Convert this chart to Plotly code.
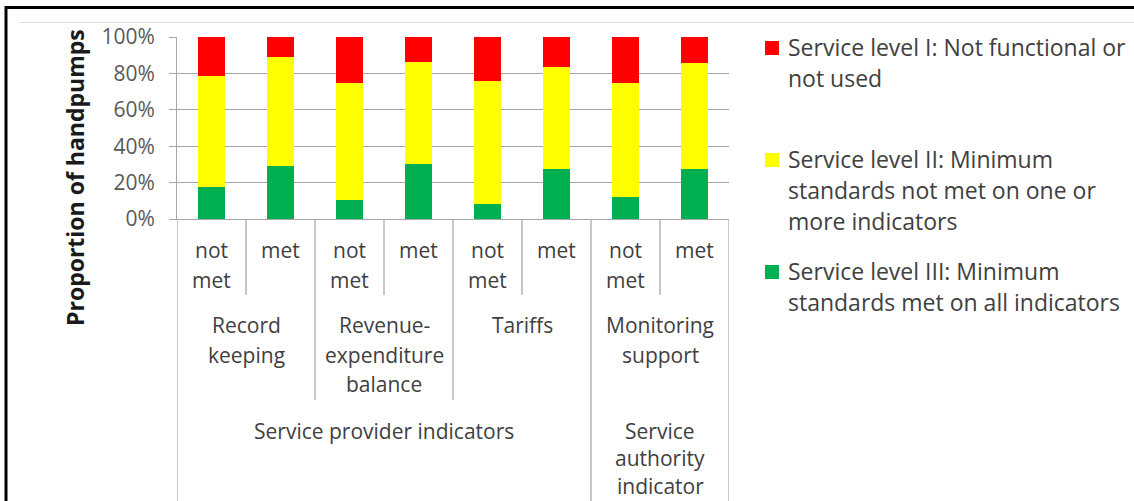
import plotly.graph_objects as go

# ---------------- data ----------------
status_labels = ["not<br>met", "met", "not<br>met", "met", "not<br>met", "met", "not<br>met", "met"]
indicator_labels = ["Record<br>keeping", "Revenue-<br>expenditure<br>balance", "Tariffs", "Monitoring<br>support"]
indicator_of_bar = [0, 0, 1, 1, 2, 2, 3, 3]
type_labels = ["Service provider indicators", "Service<br>authority<br>indicator"]
type_of_indicator = [0, 0, 0, 1]

level_III = [17.5, 29.0, 10.5, 30.0, 8.5, 27.5, 12.0, 27.5]   # green
level_II = [61.0, 60.0, 64.5, 56.0, 67.5, 56.0, 63.0, 58.0]   # yellow
level_I = [21.5, 11.0, 25.0, 14.0, 24.0, 16.5, 25.0, 14.5]    # red

series_names = [
    "Service level I: Not functional or<br>not used",
    "Service level II: Minimum<br>standards not met on one or<br>more indicators",
    "Service level III: Minimum<br>standards met on all indicators",
]
series_colors = ["#FF0000", "#FFFF00", "#00B050"]
y_title = "Proportion of handpumps"

# ---------------- layout geometry (pixels) ----------------
W_FIG, H_FIG = 1134, 501
L, R_EDGE, T, B = 177, 729, 37, 219
PW, PH = R_EDGE - L, B - T


def px_x(px):
    return (px - L) / PW


def px_y(py):
    return (B - py) / PH


FONT = "Open Sans, Noto Sans, DejaVu Sans, sans-serif"
TXT = "#404040"
GRID = "#a6a6a6"
SEP = "#b4b4b4"

n = len(level_III)
xs = list(range(n))

fig = go.Figure()
for vals, name, col in zip([level_III, level_II, level_I], series_names[::-1], series_colors[::-1]):
    fig.add_trace(go.Bar(
        x=xs, y=[v / 100 for v in vals], name=name.replace("<br>", " "),
        marker=dict(color=col, line=dict(width=0)), width=0.4, showlegend=False,
    ))

annotations = []
shapes = []


def add_lines(text, x, xref, py0, step, size=21, color=TXT, bold=False, xanchor="center"):
    for i, line in enumerate(text.split("<br>")):
        annotations.append(dict(
            text=f"<b>{line}</b>" if bold else line, x=x, xref=xref,
            y=px_y(py0 + i * step), yref="paper", showarrow=False,
            xanchor=xanchor, yanchor="middle",
            font=dict(family=FONT, size=size, color=color),
        ))


# level 1: status labels
for i, lab in enumerate(status_labels):
    add_lines(lab, i, "x", 250, 30)

# level 2: indicator labels
for j, lab in enumerate(indicator_labels):
    members = [i for i, g in enumerate(indicator_of_bar) if g == j]
    add_lines(lab, (members[0] + members[-1]) / 2, "x", 325, 29.5)

# level 3: type labels
for k, lab in enumerate(type_labels):
    members = [i for i, g in enumerate(indicator_of_bar) if type_of_indicator[g] == k]
    add_lines(lab, (members[0] + members[-1]) / 2, "x", 431, 27.5)

# separators between categories
bottom_short, bottom_mid, bottom_full = px_y(295), px_y(400), px_y(W_FIG)
for k in range(n + 1):
    xpos = k - 0.5
    if k == 0 or k == n:
        y1 = bottom_full
    else:
        a, b = indicator_of_bar[k - 1], indicator_of_bar[k]
        if a == b:
            y1 = bottom_short
        elif type_of_indicator[a] == type_of_indicator[b]:
            y1 = bottom_mid
        else:
            y1 = bottom_full
    shapes.append(dict(type="line", xref="x", yref="paper", x0=xpos, x1=xpos,
                       y0=0, y1=y1, line=dict(color=SEP, width=1.5)))

# y-axis title (centred like the original)
annotations.append(dict(
    text=f"<b>{y_title}</b>", x=px_x(75), y=px_y(178), xref="paper", yref="paper",
    showarrow=False, textangle=-90, xanchor="center", yanchor="middle",
    font=dict(family=FONT, size=23, color="#1a1a1a"),
))

# legend (drawn manually to match spacing)
leg_rows = [48, 160, 272]
for name, col, py in zip(series_names, series_colors, leg_rows):
    shapes.append(dict(type="rect", xref="paper", yref="paper",
                       x0=px_x(765), x1=px_x(779), y0=px_y(py - 7), y1=px_y(py + 7),
                       fillcolor=col, line=dict(width=0)))
    add_lines(name, px_x(786), "paper", py - 1, 31, size=23, xanchor="left")

# outer frame lines
shapes.append(dict(type="line", xref="paper", yref="paper", x0=px_x(5), x1=px_x(W_FIG + 5),
                   y0=px_y(7.5), y1=px_y(7.5), line=dict(color="black", width=3)))
shapes.append(dict(type="line", xref="paper", yref="paper", x0=px_x(6), x1=px_x(6),
                   y0=px_y(6), y1=px_y(H_FIG + 5), line=dict(color="black", width=3)))
shapes.append(dict(type="line", xref="paper", yref="paper", x0=px_x(19), x1=px_x(W_FIG + 5),
                   y0=px_y(22.5), y1=px_y(22.5), line=dict(color="#dcdcdc", width=1)))

fig.update_layout(
    width=W_FIG, height=H_FIG,
    margin=dict(l=L, r=W_FIG - R_EDGE, t=T, b=H_FIG - B, autoexpand=False),
    barmode="stack", bargap=0.6,
    plot_bgcolor="white", paper_bgcolor="white",
    annotations=annotations, shapes=shapes, showlegend=False,
    font=dict(family=FONT, color=TXT),
)
fig.update_xaxes(range=[-0.5, n - 0.5], showticklabels=False, showgrid=False,
                 zeroline=False, showline=True, linecolor=GRID, linewidth=1, ticks="")
fig.update_yaxes(range=[0, 1], dtick=0.2, tick0=0, tickformat=".0%",
                 showgrid=True, gridcolor=GRID, gridwidth=1, zeroline=False,
                 showline=True, linecolor=GRID, linewidth=1,
                 ticks="outside", ticklen=7, tickcolor=GRID, ticklabelstandoff=10,
                 tickfont=dict(family=FONT, size=21, color="#595959"))

fig.write_html("out.html", config={"displayModeBar": False},
               post_script="document.body.style.margin='0px';document.body.style.overflow='hidden';")
